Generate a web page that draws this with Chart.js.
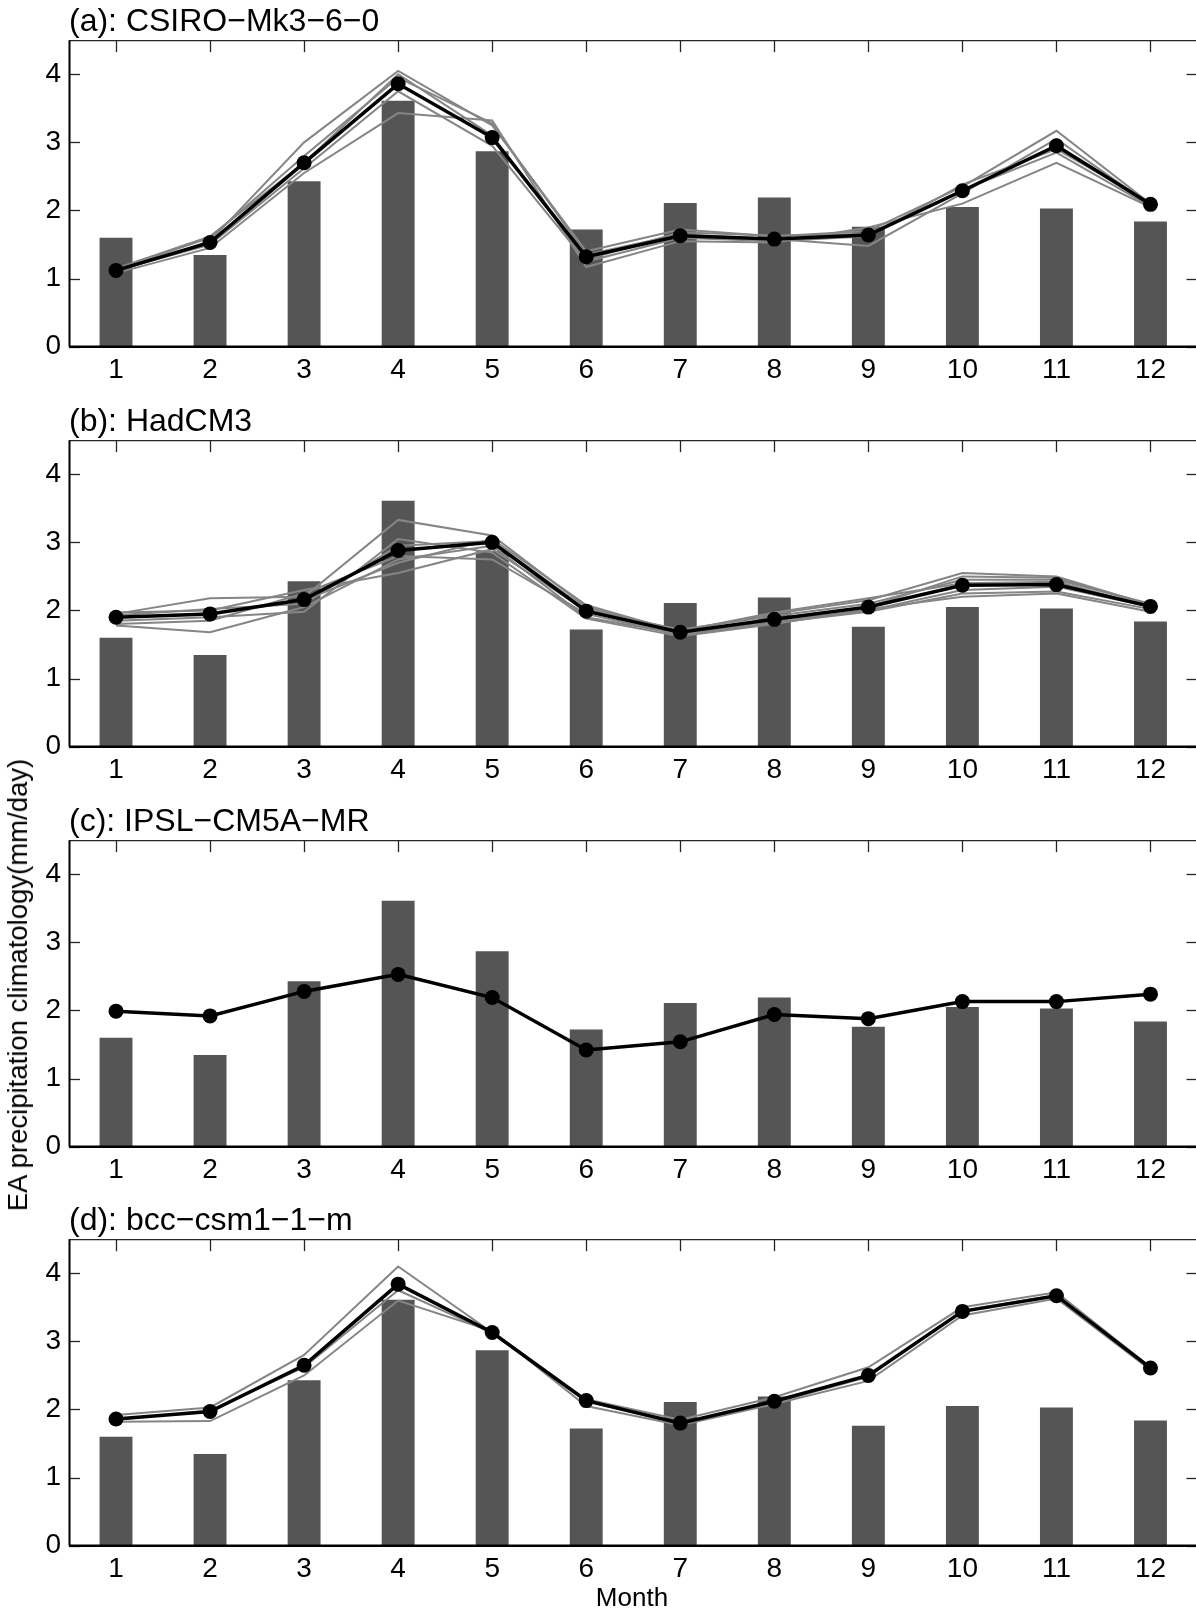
<!DOCTYPE html>
<html>
<head>
<meta charset="utf-8">
<script src="https://cdn.jsdelivr.net/npm/chart.js@4.4.0/dist/chart.umd.min.js"></script>
<style>
  html, body { margin: 0; padding: 0; background: #fff; }
  body { width: 1196px; height: 1612px; position: relative; overflow: hidden; font-family: 'Liberation Sans', Arial, sans-serif; }
  canvas { position: absolute; left: 0; }
  #ylabel { position: absolute; left: 18px; top: 985px; transform: translate(-50%, -50%) rotate(-90deg); font-size: 27.5px; white-space: nowrap; color: #000; }
  #xlabel { position: absolute; left: 632px; top: 1597px; transform: translate(-50%, -50%); font-size: 26px; color: #000; }
</style>
</head>
<body>
<canvas id="panelA" width="1205" height="400" style="top:0px"></canvas>
<canvas id="panelB" width="1205" height="400" style="top:400px"></canvas>
<canvas id="panelC" width="1205" height="400" style="top:800px"></canvas>
<canvas id="panelD" width="1205" height="400" style="top:1199px"></canvas>
<div id="ylabel">EA precipitation climatology(mm/day)</div>
<div id="xlabel">Month</div>
<script>
// Data
const months = ['1', '2', '3', '4', '5', '6', '7', '8', '9', '10', '11', '12'];
const yTicks = [0, 1, 2, 3, 4];

// observed climatology (bars, same in every panel)
const observed = [1.60, 1.345, 2.43, 3.61, 2.87, 1.72, 2.11, 2.19, 1.76, 2.05, 2.03, 1.84];

// (a) CSIRO-Mk3-6-0
const meanA = [1.12, 1.53, 2.70, 3.86, 3.07, 1.32, 1.63, 1.58, 1.64, 2.29, 2.95, 2.09];
const membersA = [
    [1.10, 1.55, 3.00, 4.05, 3.25, 1.40, 1.72, 1.62, 1.70, 2.35, 3.17, 2.10],
    [1.08, 1.45, 2.55, 3.43, 3.32, 1.17, 1.55, 1.53, 1.75, 2.10, 2.70, 2.05],
    [1.13, 1.60, 2.80, 3.95, 3.28, 1.35, 1.65, 1.58, 1.48, 2.25, 3.05, 2.08],
    [1.12, 1.50, 2.62, 3.75, 2.95, 1.25, 1.60, 1.55, 1.62, 2.38, 2.90, 2.12],
    [1.15, 1.62, 2.70, 4.00, 3.10, 1.28, 1.68, 1.63, 1.66, 2.30, 2.85, 2.06]
];

// (b) HadCM3
const meanB = [1.90, 1.95, 2.16, 2.88, 3.00, 1.99, 1.68, 1.87, 2.05, 2.37, 2.38, 2.06];
const membersB = [
    [1.95, 2.18, 2.20, 3.33, 3.10, 2.05, 1.70, 1.95, 2.15, 2.55, 2.50, 2.08],
    [1.78, 1.68, 2.05, 2.75, 2.95, 1.90, 1.65, 1.85, 2.00, 2.30, 2.35, 2.05],
    [1.97, 2.00, 2.30, 2.55, 2.90, 2.00, 1.72, 1.92, 2.10, 2.45, 2.45, 2.10],
    [1.85, 1.90, 1.98, 3.05, 2.85, 1.88, 1.62, 1.80, 2.02, 2.20, 2.25, 1.98],
    [1.90, 1.95, 2.15, 2.70, 3.05, 2.08, 1.68, 1.88, 2.05, 2.50, 2.48, 2.08],
    [1.80, 1.85, 2.25, 2.80, 2.75, 1.95, 1.64, 1.82, 1.98, 2.25, 2.28, 2.02],
    [1.93, 2.02, 2.10, 2.95, 3.02, 2.02, 1.70, 1.97, 2.18, 2.40, 2.42, 2.06]
];

// (c) IPSL-CM5A-MR (single run)
const meanC = [1.99, 1.92, 2.28, 2.53, 2.19, 1.42, 1.54, 1.94, 1.88, 2.13, 2.13, 2.24];
const membersC = [];

// (d) bcc-csm1-1-m
const meanD = [1.86, 1.97, 2.65, 3.84, 3.13, 2.13, 1.80, 2.12, 2.50, 3.44, 3.67, 2.61];
const membersD = [
    [1.92, 2.03, 2.80, 4.10, 3.13, 2.15, 1.85, 2.18, 2.62, 3.50, 3.72, 2.62],
    [1.82, 1.83, 2.50, 3.60, 3.15, 2.05, 1.77, 2.08, 2.42, 3.38, 3.63, 2.58],
    [1.85, 1.98, 2.62, 3.75, 3.12, 2.12, 1.79, 2.10, 2.48, 3.45, 3.68, 2.62]
];

const fontFamily = "'Liberation Sans', Arial, sans-serif";

// Box with inward ticks, drawn over the bars
const framePlugin = {
    id: 'frame',
    afterDatasetsDraw(chart) {
        const ctx = chart.ctx;
        const area = chart.chartArea;
        const x = chart.scales.x;
        const y = chart.scales.y;
        const line = (x1, y1, x2, y2) => {
            ctx.beginPath();
            ctx.moveTo(x1, y1);
            ctx.lineTo(x2, y2);
            ctx.stroke();
        };
        ctx.save();
        ctx.strokeStyle = '#262626';
        ctx.lineWidth = 1.3;
        months.forEach((m, i) => {
            const px = Math.round(x.getPixelForValue(i)) + 0.5;
            line(px, area.top, px, area.top + 12);
        });
        yTicks.forEach(v => {
            const py = Math.round(y.getPixelForValue(v)) + 0.5;
            line(area.left, py, area.left + 11, py);
            line(area.right - 11, py, area.right, py);
        });
        line(area.left, area.top + 0.5, area.right, area.top + 0.5);
        ctx.strokeStyle = '#000';
        ctx.lineWidth = 2;
        line(area.left + 0.5, area.top, area.left + 0.5, area.bottom);
        ctx.lineWidth = 2.6;
        line(area.left, area.bottom, area.right, area.bottom);
        ctx.restore();
    }
};

function makePanel(canvasId, title, mean, members) {
    const datasets = [
        {
            type: 'bar',
            data: observed,
            backgroundColor: '#555555',
            categoryPercentage: 1,
            barPercentage: 0.35,
            order: 3
        }
    ];
    members.forEach(m => {
        datasets.push({
            type: 'line',
            data: m,
            borderColor: '#858585',
            borderWidth: 2,
            pointRadius: 0,
            tension: 0,
            order: 2
        });
    });
    datasets.push({
        type: 'line',
        data: mean,
        borderColor: '#000',
        borderWidth: 3.5,
        pointRadius: 7.5,
        pointBackgroundColor: '#000',
        pointBorderWidth: 0,
        tension: 0,
        order: 1
    });

    return new Chart(document.getElementById(canvasId), {
        data: { labels: months, datasets: datasets },
        options: {
            responsive: false,
            animation: false,
            layout: { padding: 0 },
            scales: {
                x: {
                    type: 'category',
                    offset: true,
                    grid: { display: false, drawTicks: false },
                    border: { display: false },
                    ticks: {
                        color: '#000',
                        font: { size: 28, family: fontFamily },
                        padding: 7,
                        maxRotation: 0,
                        autoSkip: false
                    },
                    afterFit: s => { s.height = 53.3; }
                },
                y: {
                    min: 0,
                    max: 4.5,
                    grid: { display: false, drawTicks: false },
                    border: { display: false },
                    afterBuildTicks: s => { s.ticks = yTicks.map(v => ({ value: v })); },
                    ticks: {
                        color: '#000',
                        font: { size: 28, family: fontFamily },
                        padding: 8
                    },
                    afterFit: s => { s.width = 69; }
                }
            },
            plugins: {
                legend: { display: false },
                tooltip: { enabled: false },
                title: {
                    display: true,
                    text: title,
                    align: 'start',
                    fullSize: false,
                    color: '#000',
                    font: { size: 32, weight: 'normal', family: fontFamily, lineHeight: 1.1 },
                    padding: { top: 5, bottom: 0 }
                }
            }
        },
        plugins: [framePlugin]
    });
}

makePanel('panelA', '(a): CSIRO\u2212Mk3\u22126\u22120', meanA, membersA);
makePanel('panelB', '(b): HadCM3', meanB, membersB);
makePanel('panelC', '(c): IPSL\u2212CM5A\u2212MR', meanC, membersC);
makePanel('panelD', '(d): bcc\u2212csm1\u22121\u2212m', meanD, membersD);
</script>
</body>
</html>
